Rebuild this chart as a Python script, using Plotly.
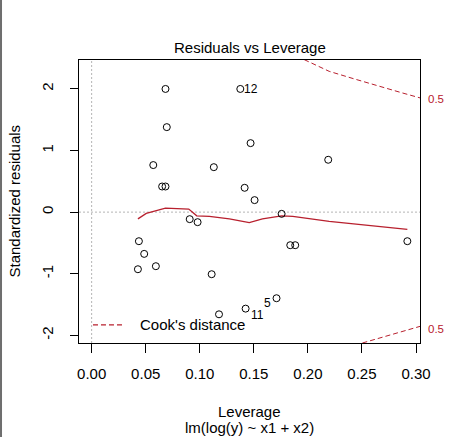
import plotly.graph_objects as go

# ---- data ----
leverage = [0.0683, 0.1375, 0.0695, 0.1470, 0.0570, 0.1130, 0.0652, 0.0683, 0.1415,
            0.2188, 0.1507, 0.0907, 0.0980, 0.1757, 0.0437, 0.0486, 0.0428, 0.0594,
            0.1110, 0.1837, 0.1883, 0.2920, 0.1178, 0.1424, 0.1710]
std_resid = [2.00, 2.00, 1.38, 1.12, 0.764, 0.73, 0.416, 0.416, 0.395,
             0.85, 0.195, -0.114, -0.163, -0.028, -0.472, -0.678, -0.927, -0.878,
             -1.008, -0.537, -0.537, -0.472, -1.659, -1.567, -1.398]
obs_id = ["", "12", "", "", "", "", "", "", "",
          "", "", "", "", "", "", "", "", "",
          "", "", "", "", "", "11", "5"]

smooth_x = [0.0428, 0.0505, 0.0683, 0.0898, 0.0972, 0.1089, 0.1274, 0.1458,
            0.1580, 0.1757, 0.1860, 0.2197, 0.2920]
smooth_y = [-0.11, -0.02, 0.065, 0.05, -0.06, -0.07, -0.11, -0.17,
            -0.11, -0.06, -0.07, -0.15, -0.28]

cook_top_x = [0.1966, 0.2197, 0.2427, 0.2659, 0.2874, 0.3037]
cook_top_y = [2.476, 2.286, 2.164, 2.04, 1.935, 1.855]
cook_bot_x = [0.2504, 0.2627, 0.2750, 0.2874, 0.3037]
cook_bot_y = [-2.125, -2.06, -1.995, -1.935, -1.855]

x_ticks = [0.00, 0.05, 0.10, 0.15, 0.20, 0.25, 0.30]
x_tick_text = ["0.00", "0.05", "0.10", "0.15", "0.20", "0.25", "0.30"]
y_ticks = [-2, -1, 0, 1, 2]
y_tick_text = ["-2", "-1", "0", "1", "2"]

FONT = "Liberation Sans, Arial, sans-serif"
RED = "#b8202e"
GRID = "#b4b4b4"

fig = go.Figure()

# reference dotted lines at 0
fig.add_hline(y=0, line=dict(color=GRID, width=1, dash="2px,2px"), layer="below")
fig.add_vline(x=0, line=dict(color=GRID, width=1, dash="2px,2px"), layer="below")

fig.add_trace(go.Scatter(x=smooth_x, y=smooth_y, mode="lines",
                         line=dict(color=RED, width=1.3), hoverinfo="skip"))
fig.add_trace(go.Scatter(x=cook_top_x, y=cook_top_y, mode="lines",
                         line=dict(color=RED, width=1, dash="5px,3px"), hoverinfo="skip"))
fig.add_trace(go.Scatter(x=cook_bot_x, y=cook_bot_y, mode="lines",
                         line=dict(color=RED, width=1, dash="5px,3px"), hoverinfo="skip"))
fig.add_trace(go.Scatter(x=leverage, y=std_resid, mode="markers",
                         marker=dict(symbol="circle-open", size=7,
                                     color="black", line=dict(color="black", width=1))))

# point id labels
for xv, yv, lab in zip(leverage, std_resid, obs_id):
    if not lab:
        continue
    if lab == "12":
        fig.add_annotation(x=xv, y=yv, text=lab, showarrow=False, xanchor="left",
                           yanchor="middle", xshift=2, font=dict(size=12, color="black", family=FONT))
    elif lab == "11":
        fig.add_annotation(x=xv, y=yv, text=lab, showarrow=False, xanchor="left",
                           yanchor="middle", xshift=3, yshift=-6, font=dict(size=12, color="black", family=FONT))
    else:
        fig.add_annotation(x=xv, y=yv, text=lab, showarrow=False, xanchor="right",
                           yanchor="middle", xshift=-4, yshift=-5, font=dict(size=12, color="black", family=FONT))

# Cook's contour labels on the right margin
fig.add_annotation(xref="paper", x=1.0167, y=1.83, yref="y", text="0.5", showarrow=False,
                   xanchor="left", yanchor="middle", font=dict(size=11.5, color=RED, family=FONT))
fig.add_annotation(xref="paper", x=1.0167, y=-1.90, yref="y", text="0.5", showarrow=False,
                   xanchor="left", yanchor="middle", font=dict(size=11.5, color=RED, family=FONT))

# legend (drawn manually like R's bty="n")
fig.add_shape(type="line", xref="paper", yref="paper", x0=0.041, x1=0.129,
              y0=0.064, y1=0.064, line=dict(color=RED, width=1.3, dash="5px,3px"))
fig.add_annotation(xref="paper", yref="paper", x=0.172, y=0.064, text="Cook's distance",
                   showarrow=False, xanchor="left", yanchor="middle",
                   font=dict(size=15, color="black", family=FONT))

# titles
fig.add_annotation(xref="paper", yref="paper", x=0.5, y=1.044, text="Residuals vs Leverage",
                   showarrow=False, xanchor="center", yanchor="middle",
                   font=dict(size=15, color="black", family=FONT))
fig.add_annotation(xref="paper", yref="paper", x=0.5, y=-0.2428, text="Leverage",
                   showarrow=False, xanchor="center", yanchor="middle",
                   font=dict(size=15, color="black", family=FONT))
fig.add_annotation(xref="paper", yref="paper", x=0.5, y=-0.30, text="lm(log(y) ~ x1 + x2)",
                   showarrow=False, xanchor="center", yanchor="middle",
                   font=dict(size=15, color="black", family=FONT))
fig.add_annotation(xref="paper", yref="paper", x=-0.1906, y=0.5, text="Standardized residuals",
                   showarrow=False, xanchor="center", yanchor="middle", textangle=-90,
                   font=dict(size=15, color="black", family=FONT))

# window border on the left edge
fig.add_shape(type="line", xref="paper", yref="paper", x0=-0.2287, x1=-0.2287,
              y0=-0.34, y1=1.22, line=dict(color="#6e6e6e", width=2))

fig.update_layout(
    width=455, height=437,
    margin=dict(l=79, r=35, t=60, b=94),
    paper_bgcolor="white", plot_bgcolor="white",
    showlegend=False,
    font=dict(family=FONT, size=15, color="black"),
)
fig.update_xaxes(range=[-0.0117, 0.3037], tickvals=x_ticks, ticktext=x_tick_text,
                 showgrid=False, zeroline=False, showline=True, mirror=True,
                 linecolor="black", linewidth=1, ticks="outside", ticklen=9,
                 tickcolor="black", tickfont=dict(size=15, family=FONT), ticklabelstandoff=8)
fig.update_yaxes(range=[-2.125, 2.47], tickvals=y_ticks, ticktext=y_tick_text,
                 showgrid=False, zeroline=False, showline=True, mirror=True,
                 linecolor="black", linewidth=1, ticks="outside", ticklen=8,
                 tickcolor="black", tickangle=-90, tickfont=dict(size=15, family=FONT),
                 ticklabelstandoff=11)

fig.write_html("out.html", config={"displayModeBar": False},
               post_script="document.body.style.margin='0px';document.body.style.overflow='hidden';")
